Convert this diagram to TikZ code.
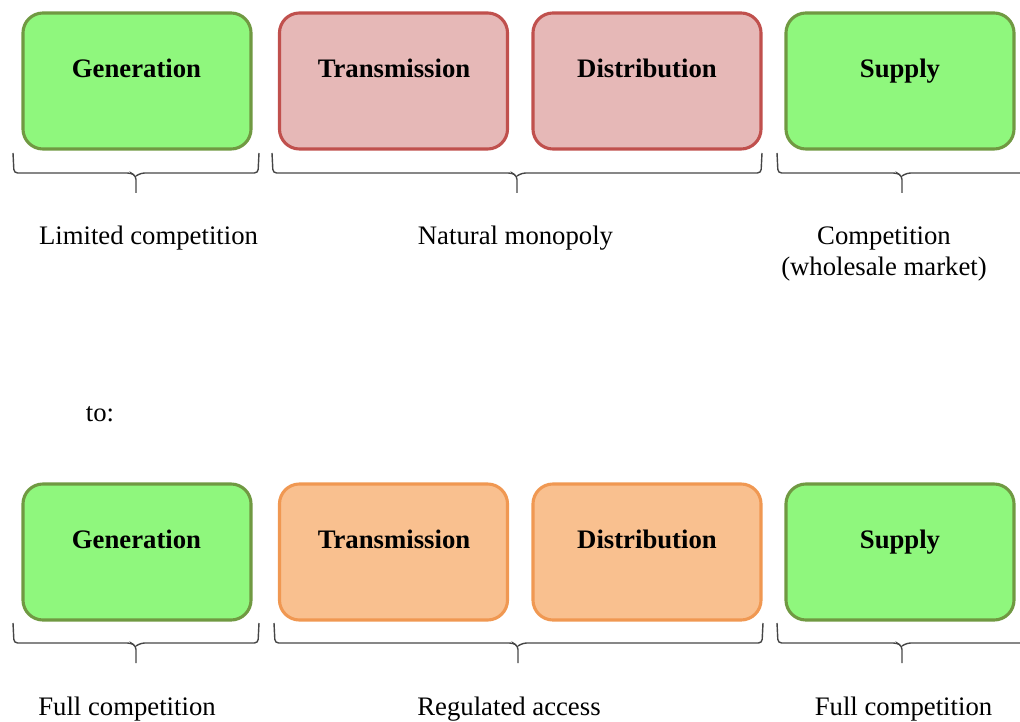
\documentclass[tikz,border=0pt]{standalone}
\usepackage{fontspec}
\setmainfont{Liberation Serif}
\usepackage{tikz}

\definecolor{genfill}{RGB}{143,247,125}
\definecolor{genline}{RGB}{112,153,66}
\definecolor{monofill}{RGB}{230,184,183}
\definecolor{monoline}{RGB}{192,80,77}
\definecolor{accfill}{RGB}{249,192,143}
\definecolor{accline}{RGB}{240,152,82}
\definecolor{bracegray}{RGB}{70,70,70}

\tikzset{
	segbox/.style={rounded corners=0.5cm, line width=2.2pt,
		minimum width=5.7cm, minimum height=3.4cm},
	compbox/.style={segbox, fill=genfill, draw=genline},
	monobox/.style={segbox, fill=monofill, draw=monoline},
	accbox/.style={segbox, fill=accfill, draw=accline},
	boxtext/.style={font=\fontsize{19}{23}\selectfont\bfseries,
		text height=0.7em, text depth=0.25em},
	marktext/.style={font=\fontsize{19}{21.5}\selectfont, align=center},
	brace/.style={draw=bracegray, line width=1pt, rounded corners=2.5pt}
}

\begin{document}
\begin{tikzpicture}[x=0.025cm, y=-0.025cm]
	\useasboundingbox (0,0) rectangle (1020,722);

	% before
	\node[compbox] (gen1) at (137,81) {};
	\node[monobox] (trans1) at (393.5,81) {};
	\node[monobox] (dist1) at (647,81) {};
	\node[compbox] (sup1) at (900,81) {};
	\node[boxtext] (gen1t) at (136.5,74) {Generation};
	\node[boxtext] (trans1t) at (394,74) {Transmission};
	\node[boxtext] (dist1t) at (647,74) {Distribution};
	\node[boxtext] (sup1t) at (900,74) {Supply};

	\draw[brace] (13,153) -- (14,173) -- (131,173) -- (136,176) -- (136,193);
	\draw[brace] (136,176) -- (141,173) -- (258,173) -- (259,153);
	\draw[brace] (272,153) -- (273,173) -- (512,173) -- (517,176) -- (517,193);
	\draw[brace] (517,176) -- (522,173) -- (761,173) -- (762,153);
	\draw[brace] (777,153) -- (778,173) -- (897,173) -- (902,176) -- (902,193);
	\draw[brace] (902,176) -- (907,173) -- (1020,173);

	\node[marktext] (lim) at (148.5,238) {Limited competition};
	\node[marktext] (nat) at (515.5,238) {Natural monopoly};
	\node[marktext] (whole) at (884,254) {Competition\\(wholesale market)};

	\node[marktext] (to) at (100,414) {to:};

	% after
	\node[compbox] (gen2) at (137,552) {};
	\node[accbox] (trans2) at (393.5,552) {};
	\node[accbox] (dist2) at (647,552) {};
	\node[compbox] (sup2) at (900,552) {};
	\node[boxtext] (gen2t) at (136.5,545) {Generation};
	\node[boxtext] (trans2t) at (394,545) {Transmission};
	\node[boxtext] (dist2t) at (647,545) {Distribution};
	\node[boxtext] (sup2t) at (900,545) {Supply};

	\draw[brace] (13,623) -- (14,643) -- (131,643) -- (136,646) -- (136,663);
	\draw[brace] (136,646) -- (141,643) -- (258,643) -- (259,623);
	\draw[brace] (274,623) -- (275,643) -- (513,643) -- (518,646) -- (518,663);
	\draw[brace] (518,646) -- (523,643) -- (762,643) -- (763,623);
	\draw[brace] (777,623) -- (778,643) -- (897,643) -- (902,646) -- (902,663);
	\draw[brace] (902,646) -- (907,643) -- (1020,643);

	\node[marktext] (full1) at (127,709) {Full competition};
	\node[marktext] (reg) at (509,709) {Regulated access};
	\node[marktext] (full2) at (903.5,709) {Full competition};
\end{tikzpicture}
\end{document}
